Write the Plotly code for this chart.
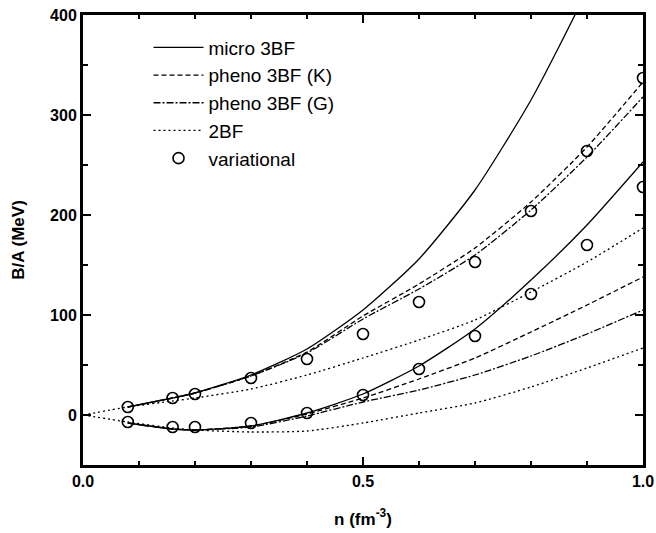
import plotly.graph_objects as go

# Density grid (fm^-3)
n_3bf = [0.08, 0.16, 0.2, 0.3, 0.4, 0.5, 0.6, 0.7, 0.8, 0.9, 1.0]
n_2bf = [0.0, 0.08, 0.16, 0.2, 0.3, 0.4, 0.5, 0.6, 0.7, 0.8, 0.9, 1.0]

# Upper family of curves
micro_up = [8, 17, 22, 40, 66, 105, 156, 225, 315, 425, 560]
phenoK_up = [8, 17, 22, 39, 63, 99, 131, 167, 213, 268, 333]
phenoG_up = [8, 17, 22, 39, 62, 96, 126, 160, 205, 258, 318]
twobf_up = [0, 8, 14, 17, 26, 40, 57, 75, 95, 123, 153, 187]
var_up = [8, 17, 21, 37, 56, 81, 113, 153, 204, 264, 337]

# Lower family of curves
micro_lo = [-8, -14, -15, -11, 2, 21, 49, 86, 135, 190, 253]
phenoK_lo = [-8, -14, -15, -11, 1, 17, 36, 57, 83, 110, 138]
phenoG_lo = [-8, -14, -15, -12, -1, 13, 25, 40, 59, 81, 105]
twobf_lo = [0, -7, -13, -15, -17, -16, -8, 2, 12, 28, 47, 67]
var_lo = [-7, -12, -12, -8, 2, 20, 46, 79, 121, 170, 228]

FONT = "Liberation Sans, Arial, sans-serif"
LW = 1.3

styles = [
    ("micro 3BF", n_3bf, micro_up, micro_lo, "solid"),
    ("pheno 3BF (K)", n_3bf, phenoK_up, phenoK_lo, "5px,3px"),
    ("pheno 3BF (G)", n_3bf, phenoG_up, phenoG_lo, "7px,2px,2px,2px"),
    ("2BF", n_2bf, twobf_up, twobf_lo, "2px,3px"),
]

fig = go.Figure()
for name, xs, up, lo, dash in styles:
    for i, ys in enumerate((up, lo)):
        fig.add_trace(go.Scatter(
            x=xs, y=ys, mode="lines", name=name, legendgroup=name,
            showlegend=(i == 0),
            line=dict(color="black", width=LW, dash=dash, shape="spline", smoothing=0.6),
        ))

for i, ys in enumerate((var_up, var_lo)):
    fig.add_trace(go.Scatter(
        x=n_3bf, y=ys, mode="markers", name="variational", legendgroup="var",
        showlegend=(i == 0),
        marker=dict(symbol="circle-open", size=11, color="black", line=dict(width=1.6)),
    ))

axis_common = dict(
    showline=True, linecolor="black", linewidth=3, mirror="ticks",
    ticks="inside", ticklen=8, tickwidth=2, tickcolor="black",
    showgrid=False, zeroline=False, automargin=False,
    tickfont=dict(family=FONT, size=16, color="black", weight="bold"),
    title_font=dict(family=FONT, size=17, color="black", weight="bold"),
)

fig.update_xaxes(
    range=[0, 1.0], tick0=0, dtick=0.5, tickformat=".1f",
    minor=dict(ticks="inside", ticklen=4, tickwidth=2, dtick=0.1, tickcolor="black"),
    title_text="n (fm<sup>-3</sup>)", title_standoff=24,
    **axis_common,
)
fig.update_yaxes(
    range=[-50, 400], tick0=0, dtick=100,
    minor=dict(ticks="inside", ticklen=5, tickwidth=2, dtick=50, tickcolor="black"),
    title_text="B/A (MeV)", title_standoff=22,
    **axis_common,
)

fig.update_layout(
    width=656, height=533,
    margin=dict(l=83, r=13, t=15, b=68),
    paper_bgcolor="white", plot_bgcolor="white",
    showlegend=True,
    legend=dict(
        x=0.117, y=0.97, xanchor="left", yanchor="top",
        bgcolor="rgba(0,0,0,0)", borderwidth=0,
        font=dict(family=FONT, size=19, color="black"),
        itemwidth=50, tracegroupgap=0,
    ),
)

fig.write_html("out.html")
